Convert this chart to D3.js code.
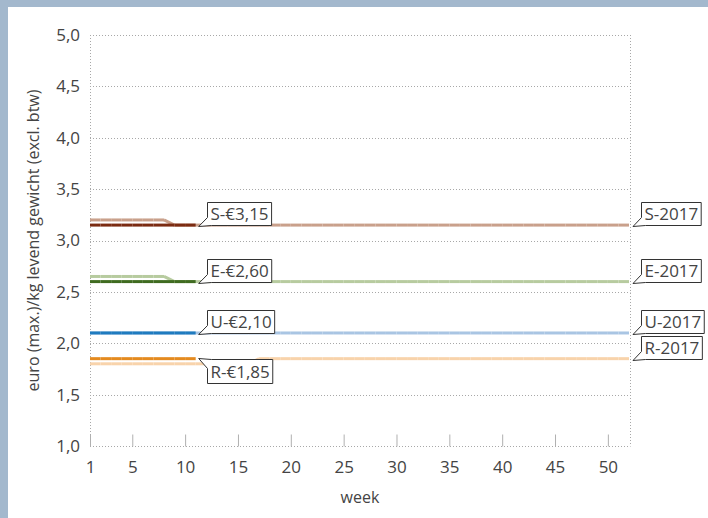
<!DOCTYPE html>
<html>
<head>
<meta charset="utf-8">
<script src="https://cdn.jsdelivr.net/npm/d3@7"></script>
<style>
  html, body { margin: 0; padding: 0; background: #a3b8cd; }
  svg { display: block; }
  text { font-family: "Open Sans", sans-serif; font-weight: 400; fill: #444444; }
</style>
</head>
<body>
<svg id="chart" width="708" height="518"></svg>
<script>
// ---------- data ----------
const weeks = [1,2,3,4,5,6,7,8,9,10,11,12,13,14,15,16,17,18,19,20,21,22,23,24,25,26,
               27,28,29,30,31,32,33,34,35,36,37,38,39,40,41,42,43,44,45,46,47,48,49,50,51,52];
const weeks2018 = [1,2,3,4,5,6,7,8,9,10,11];

const S2018 = [3.15,3.15,3.15,3.15,3.15,3.15,3.15,3.15,3.15,3.15,3.15];
const E2018 = [2.60,2.60,2.60,2.60,2.60,2.60,2.60,2.60,2.60,2.60,2.60];
const U2018 = [2.10,2.10,2.10,2.10,2.10,2.10,2.10,2.10,2.10,2.10,2.10];
const R2018 = [1.85,1.85,1.85,1.85,1.85,1.85,1.85,1.85,1.85,1.85,1.85];

const S2017 = [3.20,3.20,3.20,3.20,3.20,3.20,3.20,3.20,3.15,3.15,3.15,3.15,3.15,3.15,3.15,3.15,3.15,3.15,3.15,3.15,3.15,3.15,3.15,3.15,3.15,3.15,
               3.15,3.15,3.15,3.15,3.15,3.15,3.15,3.15,3.15,3.15,3.15,3.15,3.15,3.15,3.15,3.15,3.15,3.15,3.15,3.15,3.15,3.15,3.15,3.15,3.15,3.15];
const E2017 = [2.65,2.65,2.65,2.65,2.65,2.65,2.65,2.65,2.60,2.60,2.60,2.60,2.60,2.60,2.60,2.60,2.60,2.60,2.60,2.60,2.60,2.60,2.60,2.60,2.60,2.60,
               2.60,2.60,2.60,2.60,2.60,2.60,2.60,2.60,2.60,2.60,2.60,2.60,2.60,2.60,2.60,2.60,2.60,2.60,2.60,2.60,2.60,2.60,2.60,2.60,2.60,2.60];
const U2017 = [2.10,2.10,2.10,2.10,2.10,2.10,2.10,2.10,2.10,2.10,2.10,2.10,2.10,2.10,2.10,2.10,2.10,2.10,2.10,2.10,2.10,2.10,2.10,2.10,2.10,2.10,
               2.10,2.10,2.10,2.10,2.10,2.10,2.10,2.10,2.10,2.10,2.10,2.10,2.10,2.10,2.10,2.10,2.10,2.10,2.10,2.10,2.10,2.10,2.10,2.10,2.10,2.10];
const R2017 = [1.80,1.80,1.80,1.80,1.80,1.80,1.80,1.80,1.80,1.80,1.80,1.80,1.80,1.80,1.80,1.80,1.85,1.85,1.85,1.85,1.85,1.85,1.85,1.85,1.85,1.85,
               1.85,1.85,1.85,1.85,1.85,1.85,1.85,1.85,1.85,1.85,1.85,1.85,1.85,1.85,1.85,1.85,1.85,1.85,1.85,1.85,1.85,1.85,1.85,1.85,1.85,1.85];

const seriesNames = ["S", "E", "U", "R"];
const labels2018 = ["S-€3,15", "E-€2,60", "U-€2,10", "R-€1,85"];
const labels2017 = ["S-2017", "E-2017", "U-2017", "R-2017"];
const tail2018 = ["down", "down", "down", "up"];
const colors2018 = ["#7b2b12", "#3f6b20", "#1f7bbf", "#e48a1f"];
const colors2017 = ["#c9a08b", "#b7cb9f", "#a9c5e3", "#f8d3ab"];

const xTicks = [1,5,10,15,20,25,30,35,40,45,50];
const yTicks = [1.0,1.5,2.0,2.5,3.0,3.5,4.0,4.5,5.0];
const yTitle = "euro (max.)/kg levend gewicht (excl. btw)";
const xTitle = "week";

// ---------- drawing ----------
const svg = d3.select("#chart");
svg.append("rect").attr("x", 8).attr("y", 7).attr("width", 700).attr("height", 511).attr("fill", "#ffffff");

const x = d3.scaleLinear().domain([1, 52]).range([90, 629]);
const y = d3.scaleLinear().domain([1, 5]).range([446, 35]);
const fmt = v => d3.format(".1f")(v).replace(".", ",");

// grid
const grid = svg.append("g");
grid.selectAll("line.h").data(yTicks).join("line")
  .attr("x1", 90).attr("x2", 630.5)
  .attr("y1", d => Math.round(y(d)) + 0.5).attr("y2", d => Math.round(y(d)) + 0.5)
  .attr("stroke", "#a8a8a8").attr("stroke-width", 1).attr("stroke-dasharray", "1,2");
grid.selectAll("line.v").data([90.5, 630.5]).join("line")
  .attr("x1", d => d).attr("x2", d => d).attr("y1", 35).attr("y2", 446)
  .attr("stroke", "#a8a8a8").attr("stroke-width", 1).attr("stroke-dasharray", "1,2");

// x axis ticks (inward)
const xAxis = d3.axisBottom(x).tickValues(xTicks).tickSizeInner(-12).tickSizeOuter(0).tickPadding(16);
const gx = svg.append("g").attr("transform", "translate(0,446.5)").call(xAxis);
gx.select(".domain").remove();
gx.selectAll(".tick line").attr("stroke", "#b0b0b0");
gx.selectAll(".tick text").attr("font-size", 17).attr("fill", "#444444")
  .attr("font-family", "Open Sans, sans-serif").attr("dy", "0.71em").attr("y", 14);

// y axis labels
const yAxis = d3.axisLeft(y).tickValues(yTicks).tickFormat(fmt).tickSize(0).tickPadding(10);
const gy = svg.append("g").attr("transform", "translate(90,0)").call(yAxis);
gy.select(".domain").remove();
gy.selectAll(".tick text").attr("font-size", 17).attr("fill", "#444444")
  .attr("font-family", "Open Sans, sans-serif");

// titles
svg.append("text").attr("transform", "translate(39," + ((35 + 446) / 2) + ") rotate(-90)")
  .attr("text-anchor", "middle").attr("font-size", 16).text(yTitle);
svg.append("text").attr("x", 360).attr("y", 503).attr("text-anchor", "middle")
  .attr("font-size", 16).text(xTitle);

// lines as per-week segments
function drawSeries(xs, vals, color) {
  const segs = [];
  for (let i = 0; i < xs.length - 1; i++) segs.push([xs[i], vals[i], xs[i + 1], vals[i + 1]]);
  svg.append("g").selectAll("line").data(segs).join("line")
    .attr("x1", d => x(d[0])).attr("y1", d => y(d[1]))
    .attr("x2", d => x(d[2])).attr("y2", d => y(d[3]))
    .attr("stroke", color).attr("stroke-width", 3).attr("stroke-linecap", "butt");
}
const data2017 = [S2017, E2017, U2017, R2017];
const data2018 = [S2018, E2018, U2018, R2018];
data2017.forEach((v, i) => drawSeries(weeks, v, colors2017[i]));
data2018.forEach((v, i) => drawSeries(weeks2018, v, colors2018[i]));

// callout labels
function callout(ax, ay, txt, dir) {
  const g = svg.append("g");
  const path = g.append("path");
  const t = g.append("text").attr("font-size", 17).text(txt);
  const w = t.node().getComputedTextLength();
  const x0 = Math.round(ax) + 11.5, x1 = x0 + w + 6;
  let y0, y1, d;
  if (dir === "down") {
    y1 = Math.round(ay) + 0.5; y0 = y1 - 23;
    d = `M${x0},${y0}H${x1}V${y1}H${x0 + 4}L${ax + 3},${y1 + 1}L${x0},${y1 - 8}Z`;
  } else {
    y0 = Math.round(ay) + 0.5; y1 = y0 + 24;
    d = `M${x0 + 4},${y0}H${x1}V${y1}H${x0}V${y0 + 9}L${ax + 3},${y0 - 1}Z`;
  }
  path.attr("d", d).attr("fill", "#fff").attr("stroke", "#333").attr("stroke-width", 1);
  t.attr("x", x0 + 3).attr("y", (y0 + y1) / 2).attr("dy", "0.36em");
}
seriesNames.forEach((n, i) => {
  const v18 = data2018[i];
  callout(x(weeks2018[weeks2018.length - 1]), y(v18[v18.length - 1]), labels2018[i], tail2018[i]);
  const v17 = data2017[i];
  callout(630, y(v17[v17.length - 1]), labels2017[i], "down");
});
</script>
</body>
</html>
